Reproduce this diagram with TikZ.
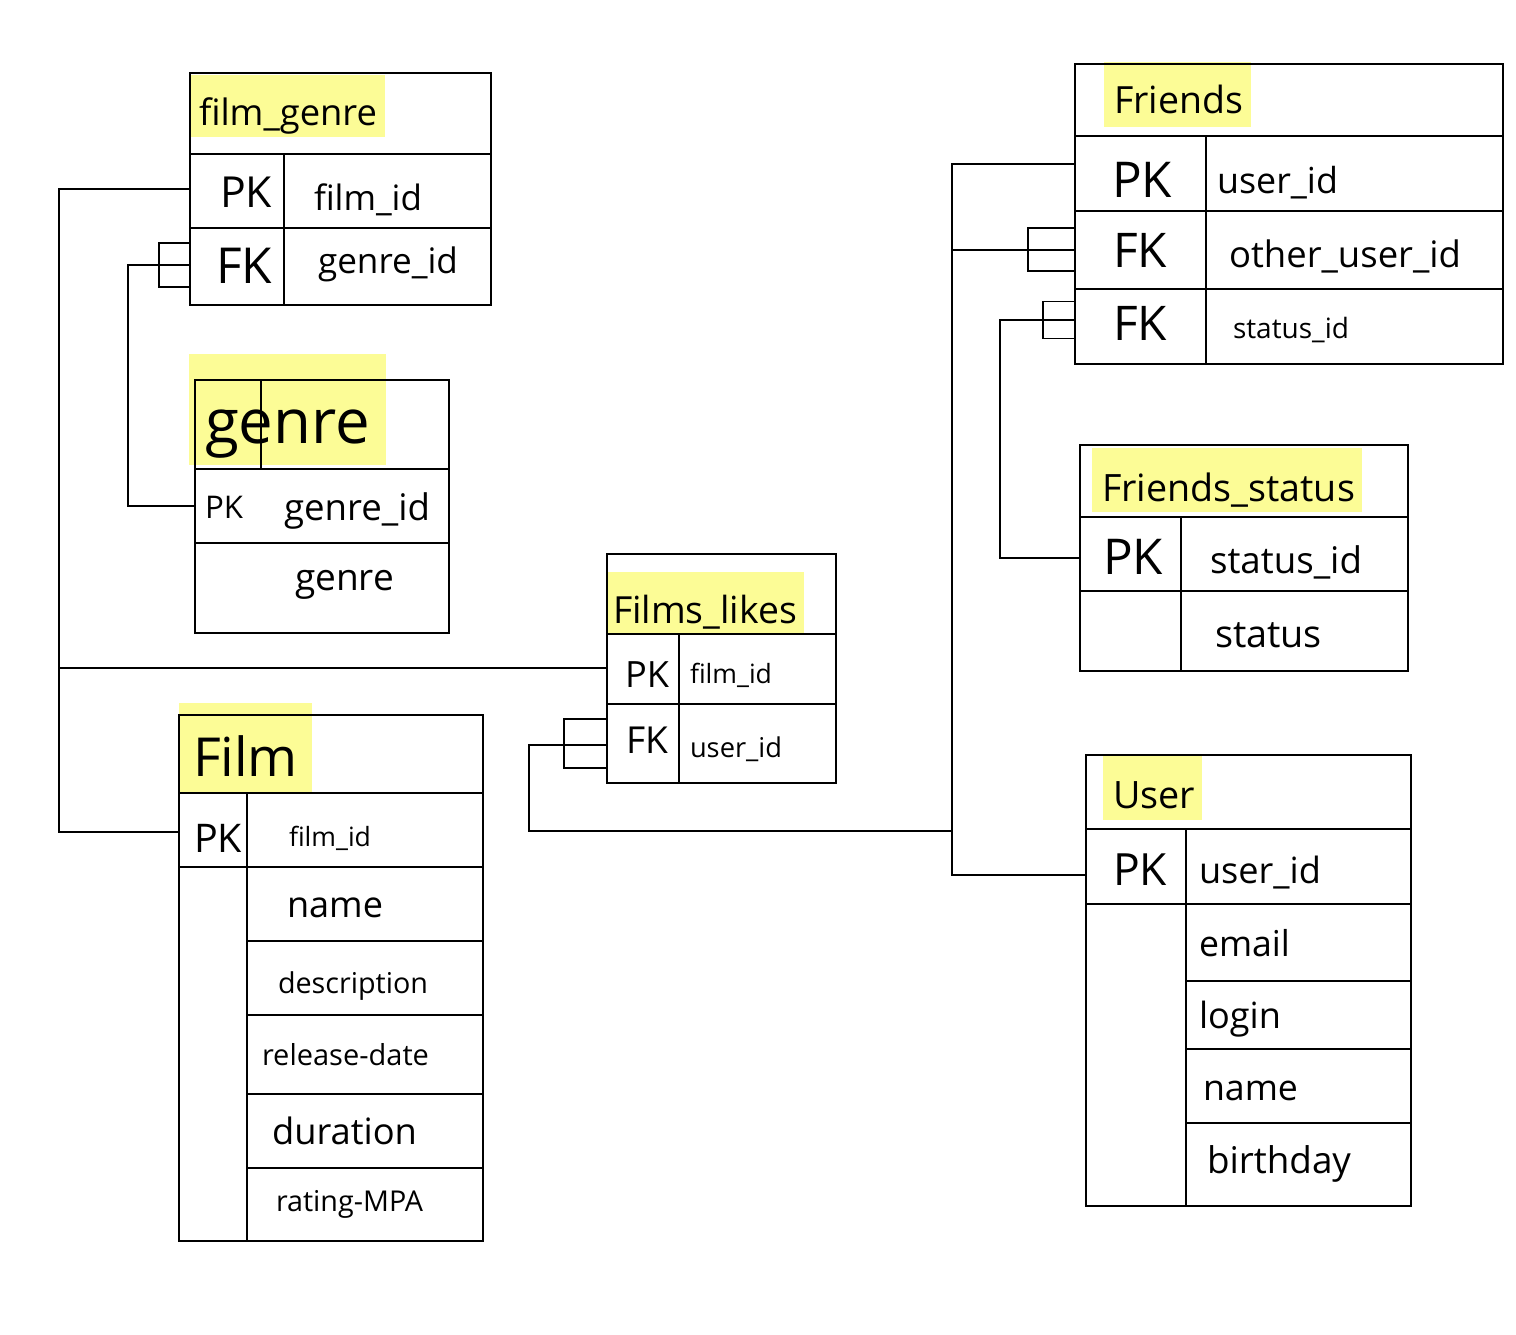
\documentclass[tikz,border=0pt]{standalone}
\usepackage{fontspec}
\setmainfont{Open Sans}
\definecolor{hl}{RGB}{252,252,150}
\newlength\fitwlen
\newcommand\fitw[2]{\settowidth\fitwlen{\fontsize{10pt}{12pt}\selectfont #2}\pgfmathsetmacro\fitwsz{10*#1/\fitwlen}\fontsize{\fitwsz pt}{\fitwsz pt}\selectfont #2}
\newcommand\crowfoot[4]{\draw[link] ([yshift=#3pt]#1.west) ++(0,-#4) -- ++(-#2,0) -- ++(0,2*#4) -- ++(#2,0);}
\begin{document}
\begin{tikzpicture}[x=1pt,y=-1pt,
  cell/.style={draw, rectangle, line width=1.7pt, inner sep=0pt, outer sep=0pt, anchor=north west},
  txt/.style={anchor=base west, inner sep=0pt, outer sep=0pt},
  link/.style={line width=1.7pt}]
\fill[white] (0,0) rectangle (1516,1334);
\useasboundingbox (0,0) rectangle (1516,1334);
% highlights
\fill[hl] (190,75) rectangle (385,137);
\fill[hl] (189,354) rectangle (386,465);
\fill[hl] (606,572) rectangle (804,635);
\fill[hl] (179,703) rectangle (312,792);
\fill[hl] (1104,62) rectangle (1251,127);
\fill[hl] (1092,448) rectangle (1362,512);
\fill[hl] (1103,755) rectangle (1202,820);
% ---------- texts ----------
% film_genre
\node[txt] (t1) at (199,125) {\fitw{178}{film\_genre}};
\node[txt] (t2) at (220,207) {\fitw{52}{PK}};
\node[txt] (t3) at (314,210) {\fitw{108}{film\_id}};
\node[txt] (t4) at (216,283) {\fitw{56}{FK}};
\node[txt] (t5) at (318,273) {\fitw{140}{genre\_id}};
% genre
\node[txt] (t6) at (205,443) {\fitw{165}{genre}};
\node[txt] (t7) at (205,518) {\fitw{38}{PK}};
\node[txt] (t8) at (284,520) {\fitw{146}{genre\_id}};
\node[txt] (t9) at (295,590) {\fitw{99}{genre}};
% Films_likes
\node[txt] (t10) at (613,623) {\fitw{184}{Films\_likes}};
\node[txt] (t11) at (625,687) {\fitw{44}{PK}};
\node[txt] (t12) at (690,683) {\fitw{82}{film\_id}};
\node[txt] (t13) at (626,753) {\fitw{42}{FK}};
\node[txt] (t14) at (690,757) {\fitw{92}{user\_id}};
% Film
\node[txt] (t15) at (193,776) {\fitw{105}{Film}};
\node[txt] (t16) at (194,852) {\fitw{48}{PK}};
\node[txt] (t17) at (289,846) {\fitw{82}{film\_id}};
\node[txt] (t18) at (287,917) {\fitw{96}{name}};
\node[txt] (t19) at (278,993) {\fitw{150}{description}};
\node[txt] (t20) at (262,1065) {\fitw{167}{release-date}};
\node[txt] (t21) at (272,1144) {\fitw{145}{duration}};
\node[txt] (t22) at (276,1211) {\fitw{147}{rating-MPA}};
% Friends
\node[txt] (t23) at (1114,113) {\fitw{129}{Friends}};
\node[txt] (t24) at (1112,197) {\fitw{60}{PK}};
\node[txt] (t25) at (1217,193) {\fitw{121}{user\_id}};
\node[txt] (t26) at (1113,267) {\fitw{54}{FK}};
\node[txt] (t27) at (1229,267) {\fitw{232}{other\_user\_id}};
\node[txt] (t28) at (1113,340) {\fitw{54}{FK}};
\node[txt] (t29) at (1233,338) {\fitw{116}{status\_id}};
% Friends_status
\node[txt] (t30) at (1102,501) {\fitw{253}{Friends\_status}};
\node[txt] (t31) at (1103,574) {\fitw{60}{PK}};
\node[txt] (t32) at (1210,573) {\fitw{152}{status\_id}};
\node[txt] (t33) at (1215,647) {\fitw{107}{status}};
% User
\node[txt] (t34) at (1113,808) {\fitw{82}{User}};
\node[txt] (t35) at (1113,885) {\fitw{54}{PK}};
\node[txt] (t36) at (1199,883) {\fitw{122}{user\_id}};
\node[txt] (t37) at (1199,956) {\fitw{91}{email}};
\node[txt] (t38) at (1199,1028) {\fitw{82}{login}};
\node[txt] (t39) at (1203,1100) {\fitw{95}{name}};
\node[txt] (t40) at (1207,1173) {\fitw{144}{birthday}};
% ---------- cells ----------
% film_genre
\node[cell, minimum width=301pt, minimum height=81pt] (fgh) at (190,73) {};
\node[cell, minimum width=94pt, minimum height=74pt] (fgk1) at (190,154) {};
\node[cell, minimum width=207pt, minimum height=74pt] (fgv1) at (284,154) {};
\node[cell, minimum width=94pt, minimum height=77pt] (fgk2) at (190,228) {};
\node[cell, minimum width=207pt, minimum height=77pt] (fgv2) at (284,228) {};
% genre
\node[cell, minimum width=254pt, minimum height=89pt] (gnh) at (195,380) {};
\node[cell, minimum width=66pt, minimum height=89pt] (gnhk) at (195,380) {};
\node[cell, minimum width=254pt, minimum height=74pt] (gn1) at (195,469) {};
\node[cell, minimum width=254pt, minimum height=90pt] (gn2) at (195,543) {};
% Films_likes
\node[cell, minimum width=229pt, minimum height=80pt] (flh) at (607,554) {};
\node[cell, minimum width=72pt, minimum height=70pt] (flk1) at (607,634) {};
\node[cell, minimum width=157pt, minimum height=70pt] (flv1) at (679,634) {};
\node[cell, minimum width=72pt, minimum height=79pt] (flk2) at (607,704) {};
\node[cell, minimum width=157pt, minimum height=79pt] (flv2) at (679,704) {};
% Film
\node[cell, minimum width=304pt, minimum height=78pt] (fmh) at (179,715) {};
\node[cell, minimum width=68pt, minimum height=74pt] (fmk1) at (179,793) {};
\node[cell, minimum width=236pt, minimum height=74pt] (fmv1) at (247,793) {};
\node[cell, minimum width=68pt, minimum height=374pt] (fmk2) at (179,867) {};
\node[cell, minimum width=236pt, minimum height=74pt] (fmv2) at (247,867) {};
\node[cell, minimum width=236pt, minimum height=74pt] (fmv3) at (247,941) {};
\node[cell, minimum width=236pt, minimum height=79pt] (fmv4) at (247,1015) {};
\node[cell, minimum width=236pt, minimum height=74pt] (fmv5) at (247,1094) {};
\node[cell, minimum width=236pt, minimum height=73pt] (fmv6) at (247,1168) {};
% Friends
\node[cell, minimum width=428pt, minimum height=72pt] (frh) at (1075,64) {};
\node[cell, minimum width=131pt, minimum height=75pt] (frk1) at (1075,136) {};
\node[cell, minimum width=297pt, minimum height=75pt] (frv1) at (1206,136) {};
\node[cell, minimum width=131pt, minimum height=78pt] (frk2) at (1075,211) {};
\node[cell, minimum width=297pt, minimum height=78pt] (frv2) at (1206,211) {};
\node[cell, minimum width=131pt, minimum height=75pt] (frk3) at (1075,289) {};
\node[cell, minimum width=297pt, minimum height=75pt] (frv3) at (1206,289) {};
% Friends_status
\node[cell, minimum width=328pt, minimum height=72pt] (fsh) at (1080,445) {};
\node[cell, minimum width=101pt, minimum height=74pt] (fsk1) at (1080,517) {};
\node[cell, minimum width=227pt, minimum height=74pt] (fsv1) at (1181,517) {};
\node[cell, minimum width=101pt, minimum height=80pt] (fsk2) at (1080,591) {};
\node[cell, minimum width=227pt, minimum height=80pt] (fsv2) at (1181,591) {};
% User
\node[cell, minimum width=325pt, minimum height=74pt] (ush) at (1086,755) {};
\node[cell, minimum width=100pt, minimum height=75pt] (usk1) at (1086,829) {};
\node[cell, minimum width=225pt, minimum height=75pt] (usv1) at (1186,829) {};
\node[cell, minimum width=100pt, minimum height=302pt] (usk2) at (1086,904) {};
\node[cell, minimum width=225pt, minimum height=77pt] (usv2) at (1186,904) {};
\node[cell, minimum width=225pt, minimum height=68pt] (usv3) at (1186,981) {};
\node[cell, minimum width=225pt, minimum height=74pt] (usv4) at (1186,1049) {};
\node[cell, minimum width=225pt, minimum height=83pt] (usv5) at (1186,1123) {};
% ---------- connectors ----------
\coordinate (cb) at (59,668);
\coordinate (cg) at (128,400);
\coordinate (cl) at (529,831);
\coordinate (cr) at (952,831);
\coordinate (cs) at (1000,400);
\draw[link] ([yshift=2pt]fgk1.west) -| (cb) |- ([yshift=-2pt]fmk1.west);
\draw[link] (cb) -- (cb -| flk1.west);
\draw[link] ([yshift=1.5pt]fgk2.west) -| (cg) |- (gn1.west);
\crowfoot{fgk2}{31}{1.5}{22}
\draw[link] ([yshift=-1.5pt]flk2.west) -| (cl) -- (cr);
\crowfoot{flk2}{43}{0}{24.5}
\draw[link] ([yshift=9.5pt]frk1.west) -| (cr) |- ([yshift=-8.5pt]usk1.west);
\draw[link] (frk2.west) -- (frk2.west -| cr);
\crowfoot{frk2}{47}{0.5}{21.5}
\draw[link] ([yshift=6.5pt]frk3.west) -| (cs) |- ([yshift=-4pt]fsk1.west);
\crowfoot{frk3}{32}{6.5}{18.5}
\end{tikzpicture}
\end{document}
